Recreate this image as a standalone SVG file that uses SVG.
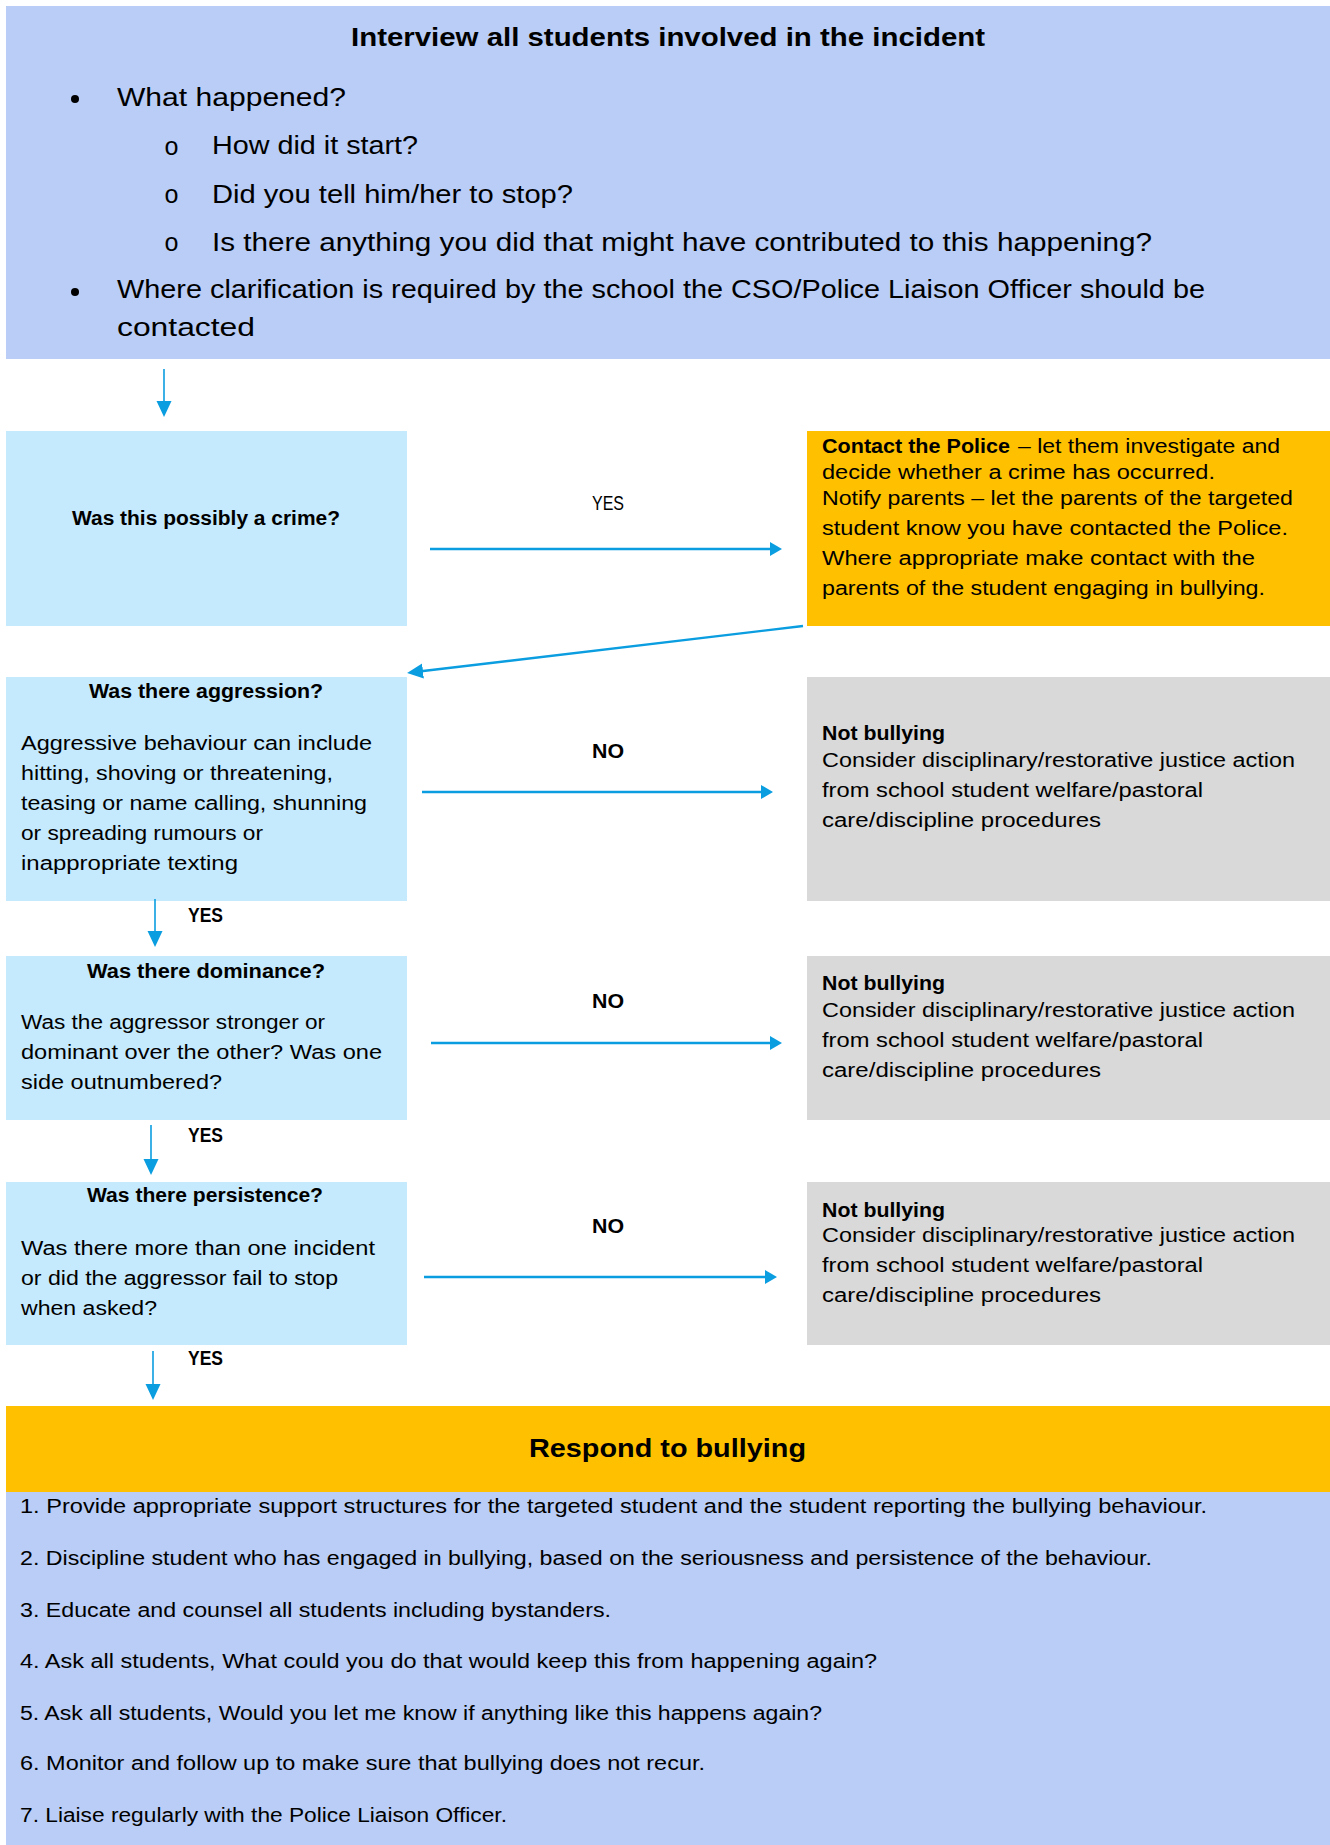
<svg xmlns="http://www.w3.org/2000/svg" width="1330" height="1845" viewBox="0 0 1330 1845">
<style>
text{font-family:"Liberation Sans",Arial,sans-serif;fill:#000;}
.r{font-size:20px;}
.b{font-size:20px;font-weight:bold;}
.big{font-size:25px;}
.h{font-size:26px;font-weight:bold;}
.o{font-family:"Liberation Mono","Courier New",monospace;font-size:25px;}
.blue{fill:#B9CDF6;}
.cyan{fill:#C5EAFD;}
.org{fill:#FFC000;}
.grey{fill:#D9D9D9;}
.c{stroke:#0A9DE0;fill:none;}
.thin{stroke-width:1.6;}
.thick{stroke-width:2.4;}
</style>
<defs>
<marker id="hv" markerUnits="userSpaceOnUse" markerWidth="18" markerHeight="16" refX="2" refY="7.5" orient="auto"><path d="M0,0 L16,7.5 L0,15 z" fill="#0A9DE0"/></marker>
<marker id="hh" markerUnits="userSpaceOnUse" markerWidth="14" markerHeight="15" refX="2" refY="7" orient="auto"><path d="M0,0 L12,7 L0,14 z" fill="#0A9DE0"/></marker>
</defs>
<rect x="0" y="0" width="1330" height="1845" fill="#fff"/>

<g id="interview">
<rect class="blue" x="6" y="6" width="1324" height="353"/>
<text class="h" x="351" y="46" textLength="634" lengthAdjust="spacingAndGlyphs">Interview all students involved in the incident</text>
<circle cx="75" cy="99" r="4" fill="#000"/>
<text class="big" x="117" y="106" textLength="229" lengthAdjust="spacingAndGlyphs">What happened?</text>
<text class="o" x="164" y="155">o</text>
<text class="big" x="212" y="154" textLength="206" lengthAdjust="spacingAndGlyphs">How did it start?</text>
<text class="o" x="164" y="203">o</text>
<text class="big" x="212" y="203" textLength="361" lengthAdjust="spacingAndGlyphs">Did you tell him/her to stop?</text>
<text class="o" x="164" y="251">o</text>
<text class="big" x="212" y="251" textLength="940" lengthAdjust="spacingAndGlyphs">Is there anything you did that might have contributed to this happening?</text>
<circle cx="75" cy="292" r="4" fill="#000"/>
<text class="big" x="117" y="298" textLength="1088" lengthAdjust="spacingAndGlyphs">Where clarification is required by the school the CSO/Police Liaison Officer should be</text>
<text class="big" x="117" y="336" textLength="138" lengthAdjust="spacingAndGlyphs">contacted</text>
</g>

<g id="crime">
<rect class="cyan" x="6" y="431" width="401" height="195"/>
<text class="b" x="72" y="525" textLength="268" lengthAdjust="spacingAndGlyphs">Was this possibly a crime?</text>
</g>

<g id="police">
<rect class="org" x="807" y="431" width="523" height="195"/>
<text class="b" x="822" y="453" textLength="188" lengthAdjust="spacingAndGlyphs">Contact the Police</text>
<text class="r" x="1018" y="453" textLength="262" lengthAdjust="spacingAndGlyphs">– let them investigate and</text>
<text class="r" x="822" y="479" textLength="393" lengthAdjust="spacingAndGlyphs">decide whether a crime has occurred.</text>
<text class="r" x="822" y="505" textLength="471" lengthAdjust="spacingAndGlyphs">Notify parents – let the parents of the targeted</text>
<text class="r" x="822" y="535" textLength="466" lengthAdjust="spacingAndGlyphs">student know you have contacted the Police.</text>
<text class="r" x="822" y="565" textLength="433" lengthAdjust="spacingAndGlyphs">Where appropriate make contact with the</text>
<text class="r" x="822" y="595" textLength="443" lengthAdjust="spacingAndGlyphs">parents of the student engaging in bullying.</text>
</g>

<g id="aggression">
<rect class="cyan" x="6" y="677" width="401" height="224"/>
<text class="b" x="89" y="698" textLength="234" lengthAdjust="spacingAndGlyphs">Was there aggression?</text>
<text class="r" x="21" y="750" textLength="351" lengthAdjust="spacingAndGlyphs">Aggressive behaviour can include</text>
<text class="r" x="21" y="780" textLength="312" lengthAdjust="spacingAndGlyphs">hitting, shoving or threatening,</text>
<text class="r" x="21" y="810" textLength="346" lengthAdjust="spacingAndGlyphs">teasing or name calling, shunning</text>
<text class="r" x="21" y="840" textLength="242" lengthAdjust="spacingAndGlyphs">or spreading rumours or</text>
<text class="r" x="21" y="870" textLength="217" lengthAdjust="spacingAndGlyphs">inappropriate texting</text>
</g>

<g id="notbullying1">
<rect class="grey" x="807" y="677" width="523" height="224"/>
<text class="b" x="822" y="740" textLength="123" lengthAdjust="spacingAndGlyphs">Not bullying</text>
<text class="r" x="822" y="767" textLength="473" lengthAdjust="spacingAndGlyphs">Consider disciplinary/restorative justice action</text>
<text class="r" x="822" y="797" textLength="381" lengthAdjust="spacingAndGlyphs">from school student welfare/pastoral</text>
<text class="r" x="822" y="827" textLength="279" lengthAdjust="spacingAndGlyphs">care/discipline procedures</text>
</g>

<g id="dominance">
<rect class="cyan" x="6" y="956" width="401" height="164"/>
<text class="b" x="87" y="978" textLength="238" lengthAdjust="spacingAndGlyphs">Was there dominance?</text>
<text class="r" x="21" y="1029" textLength="304" lengthAdjust="spacingAndGlyphs">Was the aggressor stronger or</text>
<text class="r" x="21" y="1059" textLength="361" lengthAdjust="spacingAndGlyphs">dominant over the other? Was one</text>
<text class="r" x="21" y="1089" textLength="201" lengthAdjust="spacingAndGlyphs">side outnumbered?</text>
</g>

<g id="notbullying2">
<rect class="grey" x="807" y="956" width="523" height="164"/>
<text class="b" x="822" y="990" textLength="123" lengthAdjust="spacingAndGlyphs">Not bullying</text>
<text class="r" x="822" y="1017" textLength="473" lengthAdjust="spacingAndGlyphs">Consider disciplinary/restorative justice action</text>
<text class="r" x="822" y="1047" textLength="381" lengthAdjust="spacingAndGlyphs">from school student welfare/pastoral</text>
<text class="r" x="822" y="1077" textLength="279" lengthAdjust="spacingAndGlyphs">care/discipline procedures</text>
</g>

<g id="persistence">
<rect class="cyan" x="6" y="1182" width="401" height="163"/>
<text class="b" x="87" y="1202" textLength="236" lengthAdjust="spacingAndGlyphs">Was there persistence?</text>
<text class="r" x="21" y="1255" textLength="354" lengthAdjust="spacingAndGlyphs">Was there more than one incident</text>
<text class="r" x="21" y="1285" textLength="317" lengthAdjust="spacingAndGlyphs">or did the aggressor fail to stop</text>
<text class="r" x="21" y="1315" textLength="136" lengthAdjust="spacingAndGlyphs">when asked?</text>
</g>

<g id="notbullying3">
<rect class="grey" x="807" y="1182" width="523" height="163"/>
<text class="b" x="822" y="1217" textLength="123" lengthAdjust="spacingAndGlyphs">Not bullying</text>
<text class="r" x="822" y="1242" textLength="473" lengthAdjust="spacingAndGlyphs">Consider disciplinary/restorative justice action</text>
<text class="r" x="822" y="1272" textLength="381" lengthAdjust="spacingAndGlyphs">from school student welfare/pastoral</text>
<text class="r" x="822" y="1302" textLength="279" lengthAdjust="spacingAndGlyphs">care/discipline procedures</text>
</g>

<g id="respond">
<rect class="org" x="6" y="1406" width="1324" height="86"/>
<text class="h" x="529" y="1457" textLength="277" lengthAdjust="spacingAndGlyphs">Respond to bullying</text>
<rect class="blue" x="6" y="1492" width="1324" height="353"/>
<text class="r" x="20" y="1513" textLength="1187" lengthAdjust="spacingAndGlyphs">1. Provide appropriate support structures for the targeted student and the student reporting the bullying behaviour.</text>
<text class="r" x="20" y="1565" textLength="1132" lengthAdjust="spacingAndGlyphs">2. Discipline student who has engaged in bullying, based on the seriousness and persistence of the behaviour.</text>
<text class="r" x="20" y="1617" textLength="591" lengthAdjust="spacingAndGlyphs">3. Educate and counsel all students including bystanders.</text>
<text class="r" x="20" y="1668" textLength="857" lengthAdjust="spacingAndGlyphs">4. Ask all students, What could you do that would keep this from happening again?</text>
<text class="r" x="20" y="1720" textLength="802" lengthAdjust="spacingAndGlyphs">5. Ask all students, Would you let me know if anything like this happens again?</text>
<text class="r" x="20" y="1770" textLength="685" lengthAdjust="spacingAndGlyphs">6. Monitor and follow up to make sure that bullying does not recur.</text>
<text class="r" x="20" y="1822" textLength="487" lengthAdjust="spacingAndGlyphs">7. Liaise regularly with the Police Liaison Officer.</text>
</g>

<g id="connectors">
<line class="c thin" x1="164" y1="369" x2="164" y2="403" marker-end="url(#hv)"/>
<line class="c thick" x1="430" y1="549" x2="772" y2="549" marker-end="url(#hh)"/>
<text class="r" x="592" y="510" textLength="32" lengthAdjust="spacingAndGlyphs">YES</text>
<line class="c thick" x1="803" y1="626" x2="421" y2="671.3" marker-end="url(#hv)"/>
<line class="c thick" x1="422" y1="792" x2="763" y2="792" marker-end="url(#hh)"/>
<text class="b" x="592" y="758" textLength="32" lengthAdjust="spacingAndGlyphs">NO</text>
<line class="c thin" x1="155" y1="899" x2="155" y2="933" marker-end="url(#hv)"/>
<text class="b" x="188" y="922" textLength="35" lengthAdjust="spacingAndGlyphs">YES</text>
<line class="c thick" x1="431" y1="1043" x2="772" y2="1043" marker-end="url(#hh)"/>
<text class="b" x="592" y="1008" textLength="32" lengthAdjust="spacingAndGlyphs">NO</text>
<line class="c thin" x1="151" y1="1125" x2="151" y2="1161" marker-end="url(#hv)"/>
<text class="b" x="188" y="1142" textLength="35" lengthAdjust="spacingAndGlyphs">YES</text>
<line class="c thick" x1="424" y1="1277" x2="767" y2="1277" marker-end="url(#hh)"/>
<text class="b" x="592" y="1233" textLength="32" lengthAdjust="spacingAndGlyphs">NO</text>
<line class="c thin" x1="153" y1="1351" x2="153" y2="1386" marker-end="url(#hv)"/>
<text class="b" x="188" y="1365" textLength="35" lengthAdjust="spacingAndGlyphs">YES</text>
</g>
</svg>
